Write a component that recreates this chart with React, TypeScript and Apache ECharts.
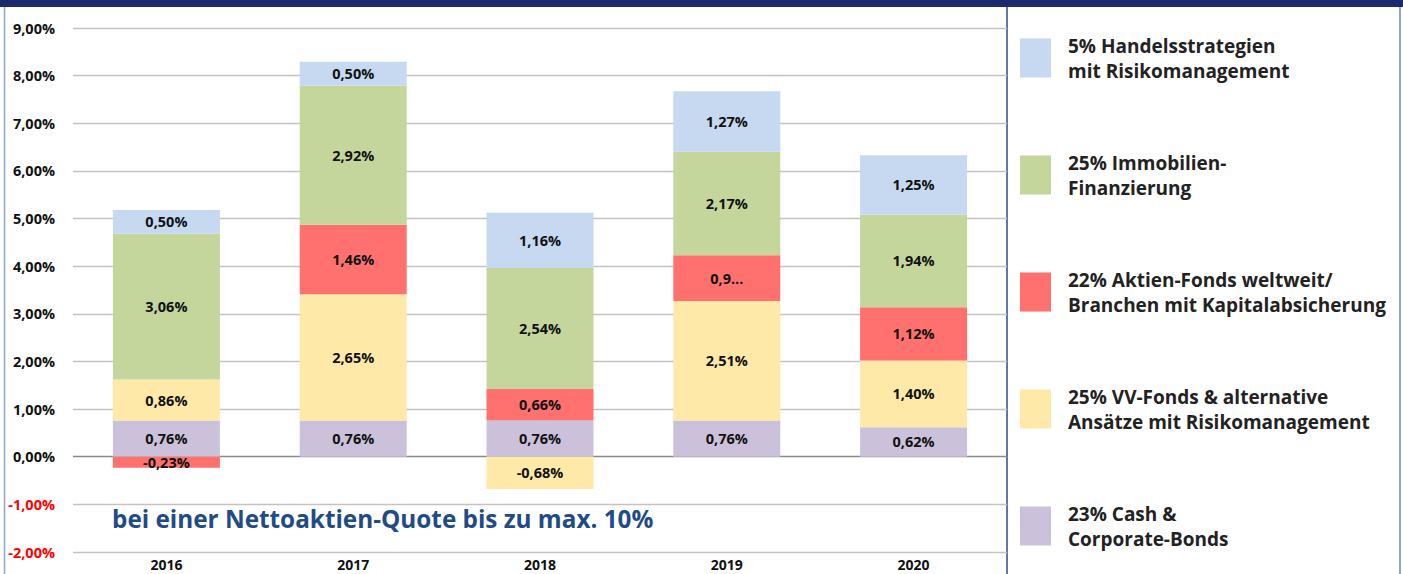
import React, { useEffect, useRef } from "react";
import * as echarts from "echarts";

const years = ["2016", "2017", "2018", "2019", "2020"];
const cashBonds = [0.76, 0.76, 0.76, 0.76, 0.62];
const vvFonds = [0.86, 2.65, -0.68, 2.51, 1.4];
const aktienFonds = [-0.23, 1.46, 0.66, 0.96, 1.12];
const immobilien = [3.06, 2.92, 2.54, 2.17, 1.94];
const handels = [0.5, 0.5, 1.16, 1.27, 1.25];
const aktienLabelText = ["", "", "", "0,9...", ""];

const names = {
  handels: "5% Handelsstrategien\nmit Risikomanagement",
  immo: "25% Immobilien-\nFinanzierung",
  aktien: "22% Aktien-Fonds weltweit/\nBranchen mit Kapitalabsicherung",
  vv: "25% VV-Fonds & alternative\nAnsätze mit Risikomanagement",
  cash: "23% Cash &\nCorporate-Bonds",
};

const FONT = "'Open Sans', Lato, sans-serif";
const fmt = (v: number) => v.toFixed(2).replace(".", ",") + "%";

export default function App() {
  const ref = useRef<HTMLDivElement>(null);
  useEffect(() => {
    if (!ref.current) return;
    const chart = echarts.init(ref.current, null, { renderer: "svg" });
    const label = (overrides?: string[]) => ({
      show: true,
      position: "inside",
      fontFamily: FONT,
      fontWeight: "bold",
      fontSize: 14.5,
      color: "#111",
      formatter: (p: any) =>
        overrides && overrides[p.dataIndex] ? overrides[p.dataIndex] : fmt(p.value),
    });
    const mk = (name: string, data: number[], color: string, overrides?: string[]) => ({
      name,
      type: "bar",
      stack: "total",
      data,
      barWidth: 107,
      itemStyle: { color },
      label: label(overrides),
    });
    const gridColors = [] as string[];
    for (let i = 0; i < 12; i++) gridColors.push(i === 2 ? "#8a8a8a" : "#c3c3c3");
    chart.setOption({
      animation: false,
      backgroundColor: "#ffffff",
      grid: { left: 73, right: 396, top: 28, bottom: 22, containLabel: false },
      xAxis: {
        type: "category",
        data: years,
        axisLine: { show: false, onZero: false },
        axisTick: { show: false },
        axisLabel: {
          fontFamily: FONT,
          fontWeight: "bold",
          fontSize: 14,
          color: "#111",
          margin: 5,
        },
      },
      yAxis: {
        type: "value",
        min: -2,
        max: 9,
        interval: 1,
        axisLine: { show: false },
        axisTick: { show: false },
        axisLabel: {
          fontFamily: FONT,
          fontWeight: "bold",
          fontSize: 14.5,
          margin: 18,
          formatter: (v: number) => fmt(v),
          color: (v: any) => (Number(v) < 0 ? "#ff0000" : "#111"),
        },
        splitLine: { lineStyle: { color: gridColors, width: 1.4 } },
      },
      legend: {
        orient: "vertical",
        left: 1020,
        top: 33,
        itemWidth: 31,
        itemHeight: 39,
        itemGap: 67,
        padding: 0,
        icon: "rect",
        selectedMode: false,
        data: [names.handels, names.immo, names.aktien, names.vv, names.cash],
        textStyle: {
          fontFamily: FONT,
          fontWeight: "bold",
          fontSize: 19,
          lineHeight: 25,
          color: "#222",
          padding: [0, 0, 0, 12],
        },
      },
      graphic: [
        { type: "rect", left: 0, top: 0, shape: { width: 1403, height: 7 }, style: { fill: "#1b2a6c" } },
        { type: "line", shape: { x1: 4.5, y1: 7, x2: 4.5, y2: 574 }, style: { stroke: "#8ea6c8", lineWidth: 1.5 } },
        { type: "line", shape: { x1: 1007, y1: 7, x2: 1007, y2: 574 }, style: { stroke: "#2d4d8c", lineWidth: 1.5 } },
        { type: "line", shape: { x1: 1400, y1: 7, x2: 1400, y2: 574 }, style: { stroke: "#4a6aa5", lineWidth: 1.2 } },
        {
          type: "text",
          left: 112,
          top: 506,
          z: 10,
          style: {
            text: "bei einer Nettoaktien-Quote bis zu max. 10%",
            fontFamily: FONT,
            fontWeight: "bold",
            fontSize: 24.3,
            fill: "#1f4b87",
          },
        },
      ],
      series: [
        mk(names.cash, cashBonds, "#ccc1da"),
        mk(names.vv, vvFonds, "#ffe9a9"),
        mk(names.aktien, aktienFonds, "#ff716e", aktienLabelText),
        mk(names.immo, immobilien, "#c4d69c"),
        mk(names.handels, handels, "#c6d9f1"),
      ],
    });
    return () => chart.dispose();
  }, []);
  return (
    <div
      ref={ref}
      style={{ position: "absolute", left: 0, top: 0, width: 1403, height: 574, background: "#fff" }}
    />
  );
}
